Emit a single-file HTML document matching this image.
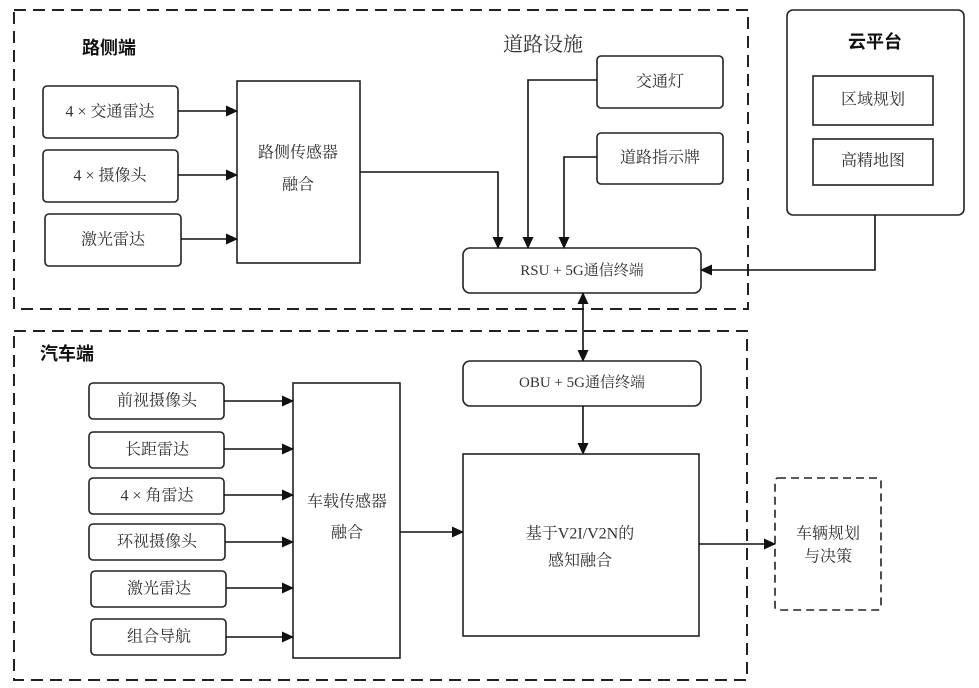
<!DOCTYPE html>
<html><head><meta charset="utf-8"><style>
html,body{margin:0;padding:0;background:#fff;}
svg{display:block;}
text{font-family:"Liberation Serif","Noto Serif CJK SC","Noto Sans CJK SC",serif;fill:#333;font-size:16px;text-anchor:middle;dominant-baseline:central;}
.b{font-weight:bold;fill:#111;font-family:"Liberation Sans","Noto Sans CJK SC",sans-serif;font-size:18px;}
.r{fill:#fff;stroke:#222;stroke-width:1.6;}
.d{fill:none;stroke:#222;stroke-width:2;stroke-dasharray:12,7;}
.l{fill:none;stroke:#111;stroke-width:1.6;}
</style></head><body>
<svg width="979" height="688" viewBox="0 0 979 688" xmlns="http://www.w3.org/2000/svg">
<defs><marker id="a" markerWidth="12" markerHeight="12" refX="11" refY="6" orient="auto" markerUnits="userSpaceOnUse"><path d="M0,0.5 L12,6 L0,11.5 z" fill="#111"/></marker>
<marker id="s" markerWidth="12" markerHeight="12" refX="1" refY="6" orient="auto" markerUnits="userSpaceOnUse"><path d="M12,0.5 L0,6 L12,11.5 z" fill="#111"/></marker></defs>
<rect class="d" x="14" y="10" width="734" height="299"/>
<rect class="d" x="14" y="331" width="733" height="349"/>
<text class="b" x="109" y="48">路侧端</text>
<text class="b" x="67" y="354">汽车端</text>
<text x="543" y="45" style="font-size:20px">道路设施</text>
<rect class="r" x="43" y="86" width="135" height="52" rx="4"/><text x="110" y="112">4 × 交通雷达</text>
<rect class="r" x="43" y="150" width="135" height="52" rx="4"/><text x="110" y="176">4 × 摄像头</text>
<rect class="r" x="45" y="214" width="136" height="52" rx="4"/><text x="113" y="240">激光雷达</text>
<rect class="r" x="237" y="81" width="123" height="182"/><text x="298" y="153">路侧传感器</text><text x="298" y="185">融合</text>
<line class="l" x1="178" y1="111" x2="237" y2="111" marker-end="url(#a)"/>
<line class="l" x1="178" y1="175" x2="237" y2="175" marker-end="url(#a)"/>
<line class="l" x1="181" y1="239" x2="237" y2="239" marker-end="url(#a)"/>
<rect class="r" x="597" y="56" width="126" height="52" rx="4"/><text x="660" y="82">交通灯</text>
<rect class="r" x="597" y="133" width="126" height="51" rx="4"/><text x="660" y="158">道路指示牌</text>
<rect class="r" x="463" y="248" width="238" height="45" rx="7"/><text x="582" y="271" style="font-size:15px">RSU + 5G通信终端</text>
<path class="l" d="M360,172 H498 V248" marker-end="url(#a)"/>
<path class="l" d="M597,80 H528 V248" marker-end="url(#a)"/>
<path class="l" d="M597,157 H564 V248" marker-end="url(#a)"/>
<rect class="r" x="787" y="10" width="177" height="205" rx="6"/>
<text class="b" x="875" y="42">云平台</text>
<rect class="r" x="813" y="76" width="120" height="49"/><text x="873" y="100">区域规划</text>
<rect class="r" x="813" y="139" width="120" height="46"/><text x="873" y="161">高精地图</text>
<path class="l" d="M875,215 V270 H701" marker-end="url(#a)"/>
<line class="l" x1="583" y1="293" x2="583" y2="361" marker-start="url(#s)" marker-end="url(#a)"/>
<rect class="r" x="463" y="361" width="238" height="45" rx="7"/><text x="582" y="383" style="font-size:15px">OBU + 5G通信终端</text>
<line class="l" x1="583" y1="406" x2="583" y2="454" marker-end="url(#a)"/>
<rect class="r" x="463" y="454" width="236" height="182"/><text x="580" y="534">基于V2I/V2N的</text><text x="580" y="561">感知融合</text>
<rect class="r" x="89" y="383" width="135" height="36" rx="4"/><text x="157" y="401">前视摄像头</text>
<rect class="r" x="89" y="432" width="135" height="36" rx="4"/><text x="157" y="450">长距雷达</text>
<rect class="r" x="89" y="478" width="135" height="36" rx="4"/><text x="157" y="496">4 × 角雷达</text>
<rect class="r" x="89" y="524" width="136" height="36" rx="4"/><text x="157" y="542">环视摄像头</text>
<rect class="r" x="91" y="571" width="135" height="36" rx="4"/><text x="159" y="589">激光雷达</text>
<rect class="r" x="91" y="619" width="135" height="36" rx="4"/><text x="159" y="637">组合导航</text>
<rect class="r" x="293" y="383" width="107" height="275"/><text x="347" y="502">车载传感器</text><text x="347" y="533">融合</text>
<line class="l" x1="224" y1="401" x2="293" y2="401" marker-end="url(#a)"/>
<line class="l" x1="224" y1="449" x2="293" y2="449" marker-end="url(#a)"/>
<line class="l" x1="224" y1="495" x2="293" y2="495" marker-end="url(#a)"/>
<line class="l" x1="225" y1="542" x2="293" y2="542" marker-end="url(#a)"/>
<line class="l" x1="226" y1="588" x2="293" y2="588" marker-end="url(#a)"/>
<line class="l" x1="226" y1="637" x2="293" y2="637" marker-end="url(#a)"/>
<line class="l" x1="400" y1="532" x2="463" y2="532" marker-end="url(#a)"/>
<line class="l" x1="699" y1="544" x2="775" y2="544" marker-end="url(#a)"/>
<rect class="d" x="775" y="478" width="106" height="132" rx="3" style="stroke-width:1.6;stroke-dasharray:8,5"/>
<text x="828" y="534">车辆规划</text><text x="828" y="557">与决策</text>
</svg>
</body></html>
